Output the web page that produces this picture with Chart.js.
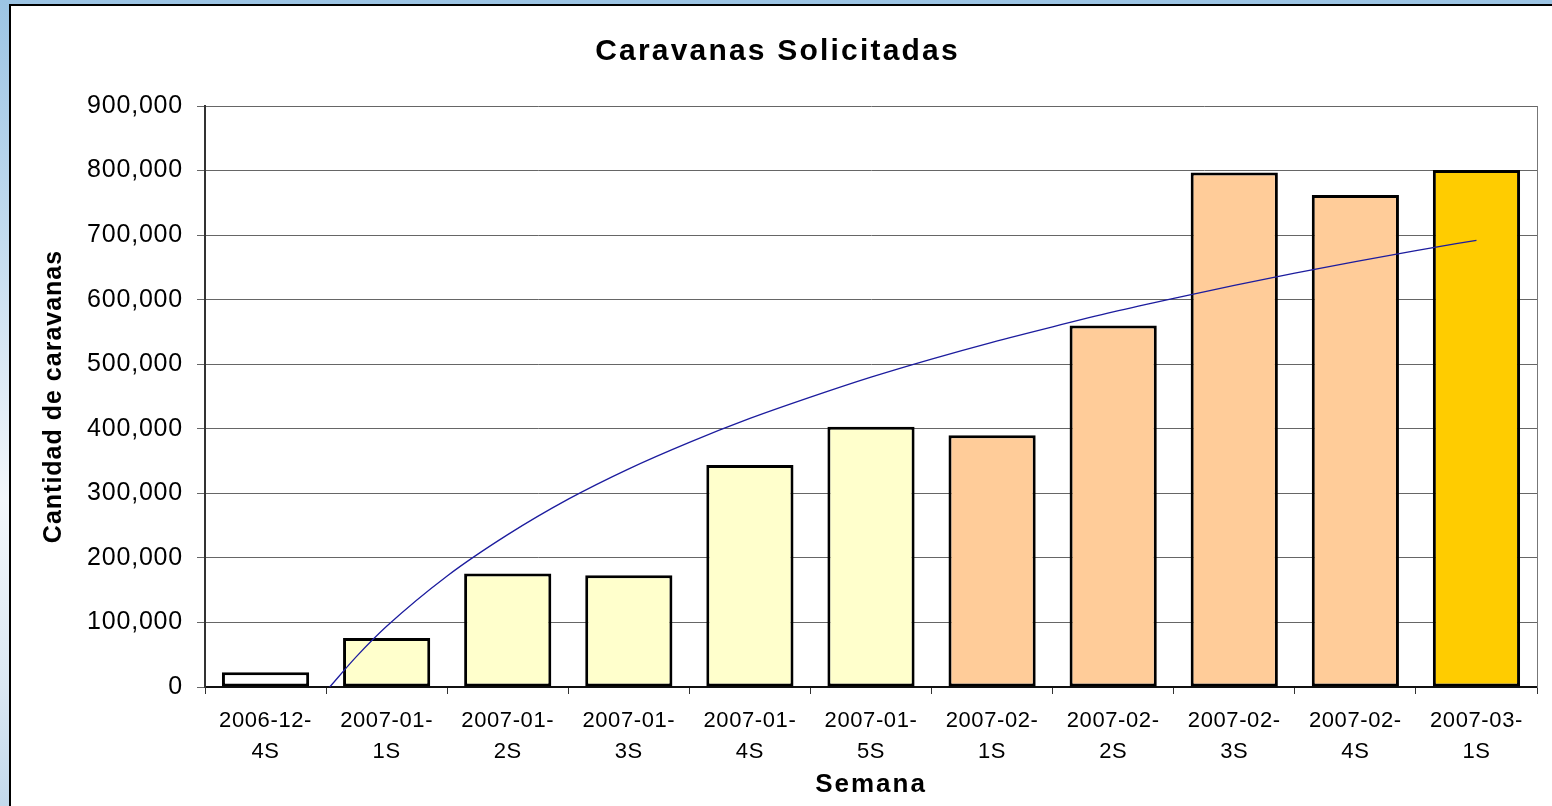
<!DOCTYPE html>
<html>
<head>
<meta charset="utf-8">
<script src="https://cdn.jsdelivr.net/npm/chart.js@4"></script>
<style>
html,body{margin:0;padding:0;width:1552px;height:806px;overflow:hidden;}
body{position:relative;background:linear-gradient(180deg,#9cc4e4 0%,#c4dcef 30%,#f3f7fb 62%,#dbe8f3 85%,#c3d9ec 100%);}
#frame{position:absolute;left:9px;top:4px;width:1600px;height:900px;border:2px solid #000;background:#fff;box-sizing:border-box;}
#c{position:absolute;left:0;top:0;}
</style>
</head>
<body>
<div id="frame"></div>
<canvas id="c" width="1552" height="806"></canvas>
<script>
// ---- data ----
const categories = [
  ['2006-12-','4S'], ['2007-01-','1S'], ['2007-01-','2S'], ['2007-01-','3S'],
  ['2007-01-','4S'], ['2007-01-','5S'], ['2007-02-','1S'], ['2007-02-','2S'],
  ['2007-02-','3S'], ['2007-02-','4S'], ['2007-03-','1S']
];
const solicitadas = [23000, 76000, 176000, 173000, 344000, 403000, 390000, 560000, 797000, 762000, 801000];
// trend line: position (category index) and value
const trendPos    = [0.53, 0.75, 1, 1.5, 2, 2.5, 3, 3.5, 4, 4.5, 5, 5.5, 6, 6.5, 7, 7.5, 8, 8.5, 9, 9.5, 10];
const trendValues = [0, 47000, 94000, 172000, 236000, 291000, 338000, 379000, 416000, 449000, 480000, 508000, 534000, 558000, 581000, 602000, 622000, 641000, 659000, 676000, 692000];
const yTickStep = 100000;
const yMax = 900000;

// ---- styles ----
const FONT = "'Liberation Sans', Arial, sans-serif";
const barColors = ['#FFFFFF','#FFFFCC','#FFFFCC','#FFFFCC','#FFFFCC','#FFFFCC','#FFCC99','#FFCC99','#FFCC99','#FFCC99','#FFCC00'];

const spacing = {
  id: 'spacing',
  beforeDraw(chart) {
    const ctx = chart.ctx;
    const wrap = (obj, fn, sp) => {
      if (!obj || obj['_w_' + fn]) return;
      const orig = obj[fn];
      obj[fn] = function (...a) {
        ctx.save();
        ctx.letterSpacing = sp;
        const r = orig.apply(this, a);
        ctx.restore();
        return r;
      };
      obj['_w_' + fn] = true;
    };
    wrap(chart.titleBlock, 'draw', '2.2px');
    wrap(chart.scales.x, 'drawLabels', '0.6px');
    wrap(chart.scales.x, 'drawTitle', '2px');
    wrap(chart.scales.y, 'drawLabels', '0.8px');
    wrap(chart.scales.y, 'drawTitle', '1px');
  }
};

new Chart(document.getElementById('c'), {
  data: {
    labels: categories,
    datasets: [
      {
        type: 'line',
        data: trendPos.map((p, i) => ({x: p, y: trendValues[i]})),
        xAxisID: 'xt', yAxisID: 'y',
        borderColor: '#1c1c9e', borderWidth: 1.3,
        pointRadius: 0, fill: false, order: 0,
        cubicInterpolationMode: 'monotone'
      },
      {
        type: 'bar',
        data: solicitadas,
        xAxisID: 'x', yAxisID: 'y',
        backgroundColor: barColors,
        borderColor: '#000', borderWidth: 3, borderSkipped: false,
        grouped: false,
        barPercentage: 0.72, categoryPercentage: 1, order: 1
      }
    ]
  },
  options: {
    responsive: false, animation: false, devicePixelRatio: 1,
    layout: {padding: {top: 10, left: 18, right: 15, bottom: 0}},
    plugins: {
      legend: {display: false},
      tooltip: {enabled: false},
      title: {
        display: true, text: 'Caravanas Solicitadas', color: '#000',
        font: {family: FONT, size: 30, weight: 'bold', lineHeight: 1.2},
        padding: {top: 24, bottom: 36}
      }
    },
    scales: {
      x: {
        type: 'category', offset: true,
        grid: {display: true, drawOnChartArea: false, drawTicks: true, tickLength: 7, color: '#333', lineWidth: 1, offset: true},
        border: {display: true, color: '#111', width: 2},
        ticks: {color: '#000', font: {family: FONT, size: 22, lineHeight: 1.4}, padding: 12, maxRotation: 0, autoSkip: false},
        title: {display: true, text: 'Semana', color: '#000', font: {family: FONT, size: 26, weight: 'bold', lineHeight: 1.2}, padding: {top: 0, bottom: 6}},
        afterFit(s) { s.height = 119; }
      },
      xt: {type: 'linear', display: false, min: -0.5, max: 10.5, offset: false},
      y: {
        type: 'linear', position: 'left', min: 0, max: yMax,
        ticks: {stepSize: yTickStep, color: '#000', font: {family: FONT, size: 25}, padding: 14, callback: v => v.toLocaleString('en-US')},
        grid: {color: '#666', lineWidth: 1, tickLength: 8},
        border: {display: true, color: '#333', width: 2},
        title: {display: true, text: 'Cantidad de caravanas', color: '#000', font: {family: FONT, size: 25, weight: 'bold', lineHeight: 1.2}, padding: {top: 21, bottom: 0}},
        afterFit(s) { s.width = 187; }
      },
      yr: {
        type: 'linear', position: 'right', display: true,
        ticks: {display: false}, grid: {display: false},
        border: {display: true, color: '#777', width: 1},
        afterFit(s) { s.width = 0; }
      }
    }
  },
  plugins: [spacing]
});
</script>
</body>
</html>
